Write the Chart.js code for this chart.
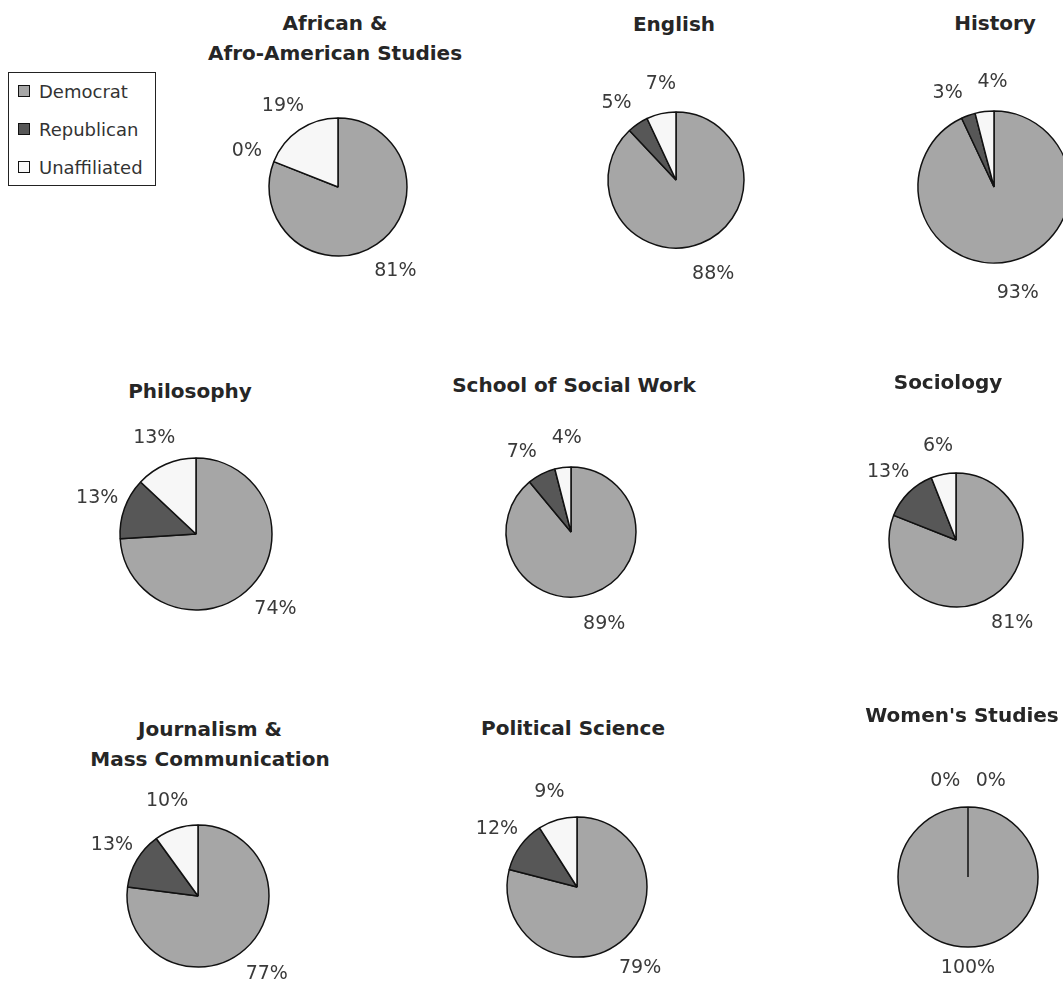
<!DOCTYPE html>
<html>
<head>
<meta charset="utf-8">
<script src="https://cdn.jsdelivr.net/npm/chart.js@4/dist/chart.umd.min.js"></script>
<style>
  html, body { margin: 0; padding: 0; background: #fff; }
  #page { position: relative; width: 1063px; height: 982px; overflow: hidden; background: #fff; }
  #page canvas { position: absolute; }
  .title {
    position: absolute; transform: translateX(-50%); white-space: nowrap; text-align: center;
    font: bold 20px "DejaVu Sans", sans-serif; color: #262626; line-height: 30px;
  }
  #legend {
    position: absolute; left: 8px; top: 72px; width: 148px; height: 114px;
    border: 1px solid #222; box-sizing: border-box; font: 18px "DejaVu Sans", sans-serif; color: #333;
  }
  #legend div { position: absolute; left: 9px; height: 20px; line-height: 20px; white-space: nowrap; }
  #legend span { display: inline-block; width: 10px; height: 10px; border: 1px solid #111; margin-right: 9px; vertical-align: 1px; }
</style>
</head>
<body>
<div id="page"><div id="legend"></div></div>
<script>
// data, one entry per department
const departments = [
  'African &\nAfro-American Studies', 'English', 'History',
  'Philosophy', 'School of Social Work', 'Sociology',
  'Journalism &\nMass Communication', 'Political Science', "Women's Studies"
];
const parties = ['Democrat', 'Republican', 'Unaffiliated'];
const democrat     = [81, 88, 93, 74, 89, 81, 77, 79, 100];
const republican   = [0, 5, 3, 13, 7, 13, 13, 12, 0];
const unaffiliated = [19, 7, 4, 13, 4, 6, 10, 9, 0];

// look
const partyColors = ['#a6a6a6', '#575757', '#f7f7f7'];

// where each pie sits: [centre x, centre y, radius, title x, title top]
const layout = [
  [338, 187, 69, 335, 8], [676, 180, 68, 674, 9], [994, 187, 76, 995, 8],
  [196, 534, 76, 190, 376], [571, 532, 65, 574, 370], [956, 540, 67, 948, 367],
  [198, 896, 71, 210, 714], [577, 887, 70, 573, 713], [968, 877, 70, 962, 700]
];

const page = document.getElementById('page');

// legend
const legend = document.getElementById('legend');
parties.forEach((p, i) => {
  const row = document.createElement('div');
  row.style.top = (9 + i * 38) + 'px';
  row.innerHTML = '<span style="background:' + partyColors[i] + '"></span>' + p;
  legend.appendChild(row);
});

// percent labels outside the pie, pushed apart when they collide
const outsideLabels = {
  id: 'outsideLabels',
  afterDatasetsDraw(chart) {
    const ctx = chart.ctx;
    const meta = chart.getDatasetMeta(0);
    const data = chart.data.datasets[0].data;
    ctx.save();
    ctx.font = '19px "DejaVu Sans", sans-serif';
    ctx.fillStyle = '#3a3a3a';
    ctx.textAlign = 'center';
    ctx.textBaseline = 'middle';

    const labels = meta.data.map((arc, i) => {
      const p = arc.getProps(['x', 'y', 'startAngle', 'endAngle', 'outerRadius'], true);
      const text = data[i] + '%';
      // the big slice sits a little further out, a whole pie sits closer
      let gap = 29;
      if (data[i] >= 100) gap = 21;
      else if (data[i] >= 50) gap = 33;
      return { p, text, gap, a: (p.startAngle + p.endAngle) / 2, w: ctx.measureText(text).width + 14, h: 26 };
    });
    const place = l => {
      const d = l.p.outerRadius + l.gap;
      l.x = l.p.x + Math.cos(l.a) * d;
      l.y = l.p.y + Math.sin(l.a) * d;
    };
    labels.forEach(place);
    for (let it = 0; it < 300; it++) {
      let moved = false;
      for (let i = 0; i < labels.length; i++) {
        for (let j = i + 1; j < labels.length; j++) {
          const A = labels[i], B = labels[j];
          if (Math.abs(A.x - B.x) < (A.w + B.w) / 2 && Math.abs(A.y - B.y) < (A.h + B.h) / 2) {
            A.a -= 0.008; B.a += 0.008;
            place(A); place(B);
            moved = true;
          }
        }
      }
      if (!moved) break;
    }
    labels.forEach(l => ctx.fillText(l.text, l.x, l.y));
    ctx.restore();
  }
};

const W = 340, H = 320;
departments.forEach((name, i) => {
  const [cx, cy, r, tx, ty] = layout[i];

  const t = document.createElement('div');
  t.className = 'title';
  t.style.left = tx + 'px';
  t.style.top = ty + 'px';
  t.innerText = name;
  page.appendChild(t);

  const canvas = document.createElement('canvas');
  canvas.width = W;
  canvas.height = H;
  canvas.style.left = (cx - W / 2) + 'px';
  canvas.style.top = (cy - H / 2) + 'px';
  page.appendChild(canvas);

  new Chart(canvas, {
    type: 'pie',
    data: {
      labels: parties,
      datasets: [{
        data: [democrat[i], republican[i], unaffiliated[i]],
        backgroundColor: partyColors,
        borderColor: '#111',
        borderWidth: 1.5,
        radius: r
      }]
    },
    options: {
      responsive: false,
      animation: false,
      events: [],
      layout: { padding: 0 },
      plugins: {
        legend: { display: false },
        tooltip: { enabled: false },
        title: { display: false }
      }
    },
    plugins: [outsideLabels]
  });
});
</script>
</body>
</html>
